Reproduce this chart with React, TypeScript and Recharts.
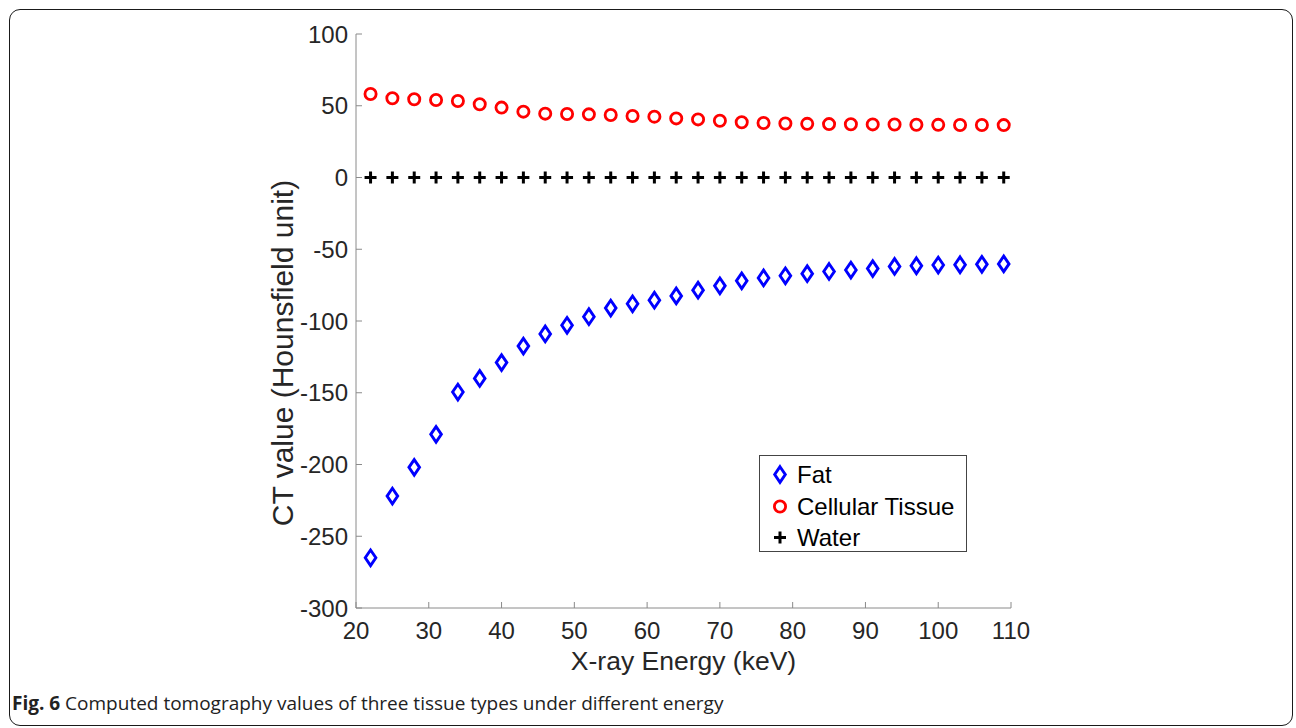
import React from 'react';
import { ScatterChart, Scatter, XAxis, YAxis, Legend } from 'recharts';

const energies = [22, 25, 28, 31, 34, 37, 40, 43, 46, 49, 52, 55, 58, 61, 64, 67, 70, 73, 76, 79, 82, 85, 88, 91, 94, 97, 100, 103, 106, 109];
const fatValues = [-265, -222, -202, -179, -149.5, -140, -129, -117.5, -109, -103, -97, -91, -88, -85.5, -82.5, -78.5, -75.5, -72, -70, -68.5, -67, -65.5, -64.5, -63.5, -62, -61.5, -61, -60.8, -60.5, -60.2];
const cellularValues = [58.2, 55.2, 54.5, 54, 53.3, 51, 48.7, 45.9, 44.5, 44.3, 44, 43.6, 42.9, 42.4, 41.2, 40.5, 39.5, 38.5, 38, 37.6, 37.4, 37.2, 37.1, 37, 36.9, 36.8, 36.7, 36.6, 36.6, 36.5];
const waterValues = [0, 0, 0, 0, 0, 0, 0, 0, 0, 0, 0, 0, 0, 0, 0, 0, 0, 0, 0, 0, 0, 0, 0, 0, 0, 0, 0, 0, 0, 0];
const xTicks = [20, 30, 40, 50, 60, 70, 80, 90, 100, 110];
const yTicks = [-300, -250, -200, -150, -100, -50, 0, 50, 100];
const seriesNames = ['Fat', 'Cellular Tissue', 'Water'];
const captionBold = 'Fig. 6';
const captionText = ' Computed tomography values of three tissue types under different energy';
const xLabel = 'X-ray Energy (keV)';
const yLabel = 'CT value (Hounsfield unit)';

const fatData = energies.map((e, i) => ({ x: e, y: fatValues[i] }));
const cellData = energies.map((e, i) => ({ x: e, y: cellularValues[i] }));
const waterData = energies.map((e, i) => ({ x: e, y: waterValues[i] }));

const FONT = '"Liberation Sans", Arial, Helvetica, sans-serif';
const AXIS_COLOR = '#8a8a8a';
const TEXT_COLOR = '#262626';

const Diamond = (props: any) => {
  const { cx, cy } = props;
  if (cx == null || cy == null) return null;
  return (
    <path
      d={`M${cx},${cy - 7.8} L${cx + 5.3},${cy} L${cx},${cy + 7.8} L${cx - 5.3},${cy} Z`}
      fill="none"
      stroke="#0000ff"
      strokeWidth={2.9}
      strokeLinejoin="miter"
    />
  );
};

const Ring = (props: any) => {
  const { cx, cy } = props;
  if (cx == null || cy == null) return null;
  return <circle cx={cx} cy={cy} r={5.6} fill="none" stroke="#ff0000" strokeWidth={2.8} />;
};

const Plus = (props: any) => {
  const { cx, cy } = props;
  if (cx == null || cy == null) return null;
  return (
    <g stroke="#000" strokeWidth={3}>
      <line x1={cx - 6} y1={cy} x2={cx + 6} y2={cy} />
      <line x1={cx} y1={cy - 6} x2={cx} y2={cy + 6} />
    </g>
  );
};

const legendMarkers = [
  (x: number, y: number) => <Diamond cx={x} cy={y} />,
  (x: number, y: number) => <Ring cx={x} cy={y} />,
  (x: number, y: number) => <Plus cx={x} cy={y} />,
];

const LegendBox = () => (
  <div
    style={{
      width: 208,
      height: 97,
      boxSizing: 'border-box',
      border: '1px solid #444',
      background: '#fff',
      position: 'relative',
      fontFamily: FONT,
      fontSize: 24,
      color: '#000',
    }}
  >
    {seriesNames.map((name, i) => (
      <div key={name} style={{ position: 'absolute', left: 0, top: 3 + i * 31.5, height: 31, width: 206 }}>
        <svg width={30} height={31} style={{ position: 'absolute', left: 5, top: 0 }}>
          {legendMarkers[i](15, 15.5)}
        </svg>
        <span style={{ position: 'absolute', left: 37, top: 2, lineHeight: '27px', whiteSpace: 'nowrap' }}>{name}</span>
      </div>
    ))}
  </div>
);

const YLabel = (props: any) => {
  const vb = props.viewBox || {};
  const cx = vb.x + vb.width - 74;
  const cy = vb.y + vb.height / 2 + 32;
  return (
    <text
      x={cx}
      y={cy}
      transform={`rotate(-90, ${cx}, ${cy})`}
      textAnchor="middle"
      dominantBaseline="central"
      fontFamily={FONT}
      fontSize={30}
      fill={TEXT_COLOR}
    >
      {yLabel}
    </text>
  );
};

export default function App() {
  return (
    <div style={{ position: 'absolute', left: 0, top: 0, width: 1296, height: 728, background: '#fff' }}>
      <div
        style={{
          position: 'absolute',
          left: 9,
          top: 9,
          width: 1284,
          height: 717,
          boxSizing: 'border-box',
          border: '1.6px solid #1a1a1a',
          borderRadius: 11,
        }}
      />
      <ScatterChart
        width={1296}
        height={728}
        margin={{ top: 34, right: 285, bottom: 58, left: 296 }}
        style={{ position: 'absolute', left: 0, top: 0 }}
      >
        <XAxis
          xAxisId="bottom"
          type="number"
          dataKey="x"
          domain={[20, 110]}
          ticks={xTicks}
          allowDataOverflow
          height={62}
          tickSize={-6}
          tickMargin={20}
          stroke={AXIS_COLOR}
          tick={{ fill: TEXT_COLOR, fontSize: 24, fontFamily: FONT }}
          label={{ value: xLabel, position: 'insideBottom', offset: 0, fill: TEXT_COLOR, fontSize: 26.5, fontFamily: FONT }}
        />
        <XAxis
          xAxisId="top"
          orientation="top"
          type="number"
          dataKey="x"
          domain={[20, 110]}
          ticks={xTicks}
          allowDataOverflow
          height={0}
          tickSize={-6}
          stroke={AXIS_COLOR}
          tick={false}
        />
        <YAxis
          yAxisId="left"
          type="number"
          dataKey="y"
          domain={[-300, 100]}
          ticks={yTicks}
          allowDataOverflow
          width={60}
          tickSize={-6}
          tickMargin={14}
          stroke={AXIS_COLOR}
          tick={{ fill: TEXT_COLOR, fontSize: 24, fontFamily: FONT }}
          label={<YLabel />}
        />
        <YAxis
          yAxisId="right"
          orientation="right"
          type="number"
          dataKey="y"
          domain={[-300, 100]}
          ticks={yTicks}
          allowDataOverflow
          width={0}
          tickSize={-6}
          stroke={AXIS_COLOR}
          tick={false}
        />
        <Scatter name={seriesNames[0]} data={fatData} xAxisId="bottom" yAxisId="left" shape={<Diamond />} isAnimationActive={false} />
        <Scatter name={seriesNames[1]} data={cellData} xAxisId="bottom" yAxisId="left" shape={<Ring />} isAnimationActive={false} />
        <Scatter name={seriesNames[2]} data={waterData} xAxisId="bottom" yAxisId="left" shape={<Plus />} isAnimationActive={false} />
        <Legend
          layout="horizontal"
          verticalAlign="middle"
          align="center"
          content={() => <LegendBox />}
          wrapperStyle={{ position: 'absolute', left: 759, top: 455, width: 208, height: 97, bottom: 'auto', right: 'auto' }}
        />
      </ScatterChart>
      <div
        style={{
          position: 'absolute',
          left: 12,
          top: 693,
          fontFamily: '"Open Sans", "Noto Sans", sans-serif',
          fontSize: 19,
          lineHeight: '20px',
          color: '#222',
          whiteSpace: 'nowrap',
        }}
      >
        <b>{captionBold}</b>
        {captionText}
      </div>
    </div>
  );
}
